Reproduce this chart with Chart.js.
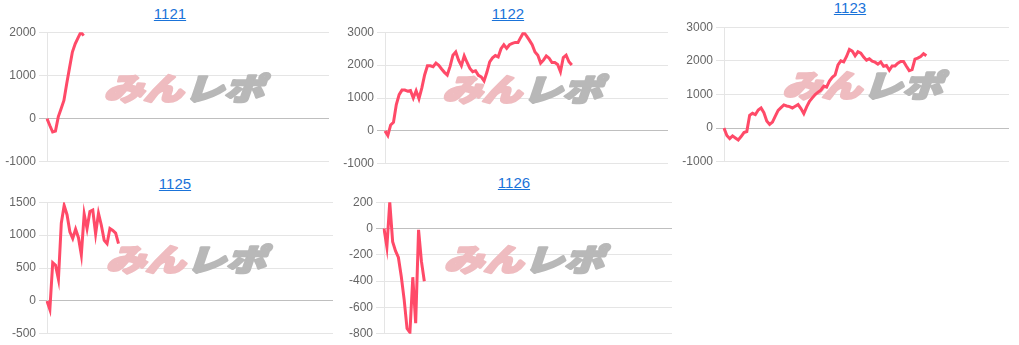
<!DOCTYPE html>
<html lang="ja">
<head>
<meta charset="utf-8">
<title>みんレポ 差枚数グラフ</title>
<script src="https://cdn.jsdelivr.net/npm/chart.js@4.4.1/dist/chart.umd.min.js"></script>
<style>
  html, body { margin: 0; padding: 0; background: #fff; }
  body { width: 1019px; height: 345px; position: relative; overflow: hidden;
         font-family: Arial, "Liberation Sans", sans-serif; }
  .title { position: absolute; width: 120px; text-align: center; font-size: 15px; line-height: 18px; }
  .title a { color: #1a73d9; text-decoration: underline; }
  .box { position: absolute; }
</style>
</head>
<body>
<script>
// ============================
// データ（台番号ごとの差枚数）
// ============================
const machineNames = ["1121", "1122", "1123", "1125", "1126"];

// x軸（ゲーム数の刻み、ラベルは非表示）
const gameSteps = Array.from({ length: 101 }, (_, i) => i);

const diff1121 = [0, -160, -310, -290, 40, 230, 420, 810, 1180, 1540, 1730, 1870, 2000, 1920];

const diff1122 = [
  0, -140, 180, 260, 800, 1100, 1240, 1240, 1210, 1230,
  1000, 1220, 980, 1300, 1700, 1980, 1980, 1950, 2060, 1990,
  1880, 1780, 1700, 1960, 2300, 2400, 2150, 1980, 2280, 2080,
  1900, 1800, 1830, 1690, 1640, 1520, 1780, 2100, 2220, 2290,
  2250, 2500, 2620, 2510, 2620, 2660, 2690, 2690, 2850, 3000,
  2890, 2760, 2620, 2400, 2300, 2060, 2150, 2280, 2210, 2080,
  2080, 2020, 1800, 2230, 2300, 2100, 2000
];

const diff1123 = [
  0, -220, -310, -230, -290, -350, -250, -130, -100, 380,
  440, 400, 540, 600, 460, 210, 110, 180, 360, 530,
  610, 690, 660, 640, 600, 650, 700, 580, 430, 630,
  800, 900, 1000, 1070, 1130, 1250, 1220, 1400, 1510, 1580,
  1880, 2000, 1970, 2130, 2340, 2290, 2150, 2270, 2230, 2110,
  2020, 2060, 1990, 1960, 1900, 1970, 1840, 1860, 1720, 1850,
  1850, 1930, 1980, 1980, 1840, 1710, 1740, 2050, 2080, 2130,
  2210, 2150
];

const diff1125 = [
  0, -130, 580, 540, 330, 1180, 1450, 1310, 1050, 950,
  1090, 960, 700, 1320, 1100, 1360, 1380, 1020, 1330, 1150,
  920, 870, 1100, 1070, 1030, 870
];

const diff1126 = [0, -140, 200, -100, -170, -220, -365, -540, -760, -790, -370, -720, -10, -250, -400];

// y軸の目盛り
const ticks1121 = [-1000, 0, 1000, 2000];
const ticks1122 = [-1000, 0, 1000, 2000, 3000];
const ticks1123 = [-1000, 0, 1000, 2000, 3000];
const ticks1125 = [-500, 0, 500, 1000, 1500];
const ticks1126 = [-800, -600, -400, -200, 0, 200];

const seriesList = [diff1121, diff1122, diff1123, diff1125, diff1126];
const tickList = [ticks1121, ticks1122, ticks1123, ticks1125, ticks1126];

// ============================
// 配置（グラフ領域の位置）
// ============================
const AXIS_W = 47;
const boxes = [
  { left: 47, right: 329, top: 32, bottom: 162, titleX: 170, titleY: 5 },
  { left: 385, right: 668, top: 32, bottom: 164, titleX: 508, titleY: 5 },
  { left: 724, right: 1009, top: 27, bottom: 162, titleX: 850, titleY: -1 },
  { left: 47, right: 333, top: 202, bottom: 334, titleX: 175, titleY: 175 },
  { left: 384, right: 672, top: 202, bottom: 334, titleX: 514, titleY: 174 }
];

// 透かしロゴ
const watermark = {
  id: "watermark",
  beforeDatasetsDraw(chart) {
    const { ctx, chartArea: a } = chart;
    const cx = (a.left + a.right) / 2;
    const cy = (a.top + a.bottom) / 2 - 9;
    ctx.save();
    ctx.translate(cx, cy);
    ctx.transform(1.1, 0, -0.29, 0.85, 0, 0);
    ctx.font = '900 36px "Noto Sans CJK JP"';
    ctx.textBaseline = "middle";
    ctx.lineJoin = "round";
    ctx.lineWidth = 3;
    ctx.textAlign = "right";
    ctx.fillStyle = ctx.strokeStyle = "#efbcc0";
    ctx.strokeText("みん", -1, 0);
    ctx.fillText("みん", -1, 0);
    ctx.textAlign = "left";
    ctx.fillStyle = ctx.strokeStyle = "#b8b8b8";
    ctx.strokeText("レポ", 0, 0);
    ctx.fillText("レポ", 0, 0);
    ctx.restore();
  }
};

// ============================
// 描画処理
// ============================
machineNames.forEach((name, i) => {
  const b = boxes[i];
  const ticks = tickList[i];

  const title = document.createElement("div");
  title.className = "title";
  title.style.left = (b.titleX - 60) + "px";
  title.style.top = b.titleY + "px";
  const link = document.createElement("a");
  link.href = "#";
  link.textContent = name;
  title.appendChild(link);
  document.body.appendChild(title);

  const box = document.createElement("div");
  box.className = "box";
  box.style.left = (b.left - AXIS_W) + "px";
  box.style.top = (b.top - 10) + "px";
  box.style.width = (b.right - b.left + AXIS_W) + "px";
  box.style.height = (b.bottom - b.top + 20) + "px";
  const canvas = document.createElement("canvas");
  box.appendChild(canvas);
  document.body.appendChild(box);

  new Chart(canvas, {
    type: "line",
    data: {
      labels: gameSteps,
      datasets: [{
        data: seriesList[i],
        borderColor: "rgb(255, 74, 104)",
        borderWidth: 3,
        pointRadius: 0,
        fill: false,
        tension: 0
      }]
    },
    options: {
      responsive: true,
      maintainAspectRatio: false,
      animation: false,
      layout: { padding: { top: 10, bottom: 10, left: 0, right: 0 } },
      plugins: {
        legend: { display: false },
        tooltip: { enabled: false }
      },
      scales: {
        x: { display: false },
        y: {
          min: ticks[0],
          max: ticks[ticks.length - 1],
          afterFit: scale => { scale.width = AXIS_W; },
          grid: {
            color: c => (c.tick && c.tick.value === 0 ? "rgba(0,0,0,0.25)" : "rgba(0,0,0,0.1)")
          },
          border: { color: "rgba(0,0,0,0.1)" },
          ticks: {
            stepSize: ticks[1] - ticks[0],
            color: "#666",
            font: { size: 12, family: '"Helvetica Neue", Helvetica, Arial, sans-serif' },
            callback: v => String(v)
          }
        }
      }
    },
    plugins: [watermark]
  });
});
</script>
</body>
</html>
